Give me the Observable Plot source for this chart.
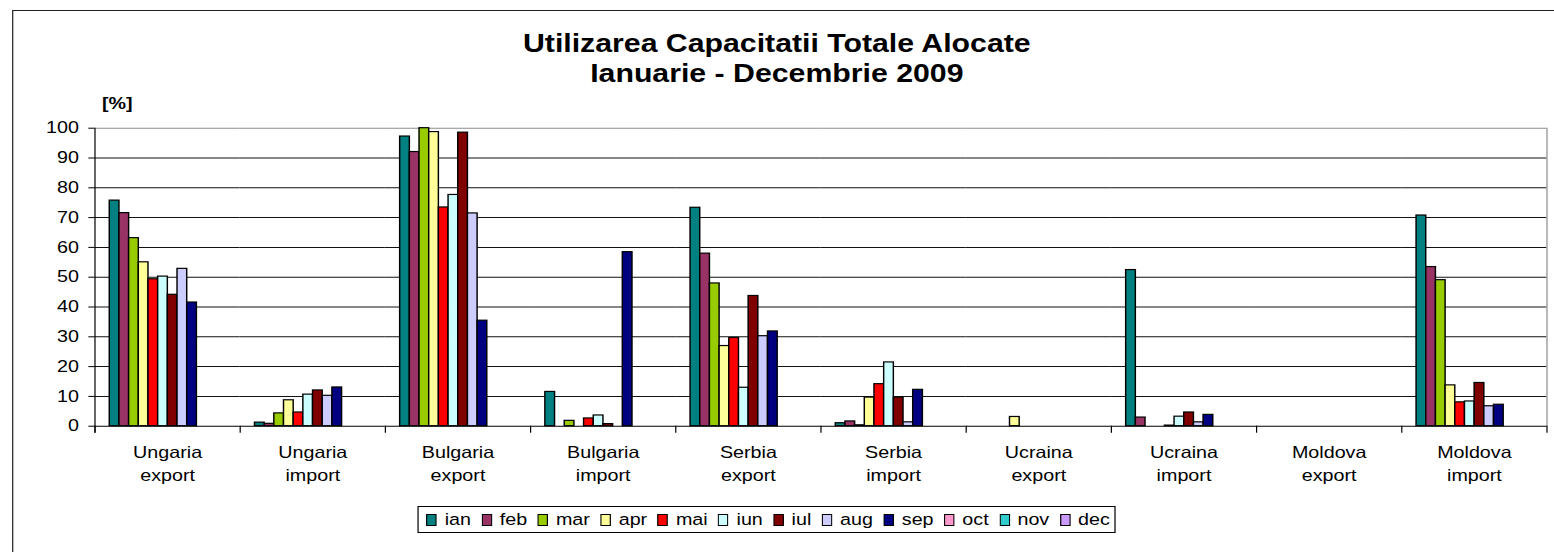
<!DOCTYPE html>
<html>
<head>
<meta charset="utf-8">
<script src="https://cdn.jsdelivr.net/npm/d3@7"></script>
<script src="https://cdn.jsdelivr.net/npm/@observablehq/plot@0.6"></script>
<style>
  html, body { margin: 0; padding: 0; background: #fff; overflow: hidden; width: 1554px; height: 552px; }
  #stage { position: relative; width: 1284px; height: 552px; transform: scaleX(1.21); transform-origin: 0 0;
           font-family: "Liberation Sans", Arial, sans-serif; color: #000; }
  #box { position: absolute; left: 9.9px; top: 10px; width: 1400px; height: 700px;
         border-top: 1.5px solid #222; border-left: 1.6px solid #222; }
  #title { position: absolute; left: 0; top: 28px; width: 1284px; text-align: center;
           font-weight: bold; font-size: 25px; line-height: 30px; }
  #unit { position: absolute; left: 84.3px; top: 93px; font-weight: bold; font-size: 16.3px; line-height: 20px; }
  #chart { position: absolute; left: 0; top: 100px; }
  #legend { position: absolute; left: 344.9px; top: 506px; width: 577.4px; height: 27.3px; box-sizing: border-box;
            border: 1px solid #000; display: flex; align-items: center; justify-content: space-between;
            padding: 0 4px 0 6.3px; font-size: 16.3px; background: #fff; }
  .item { display: flex; align-items: center; white-space: nowrap; flex-shrink: 0; }
  .sw { display: block; flex: 0 0 auto; margin-right: 6.3px; }
</style>
</head>
<body>
<div id="stage">
  <div id="box"></div>
  <div id="title">Utilizarea Capacitatii Totale Alocate<br>Ianuarie - Decembrie 2009</div>
  <div id="unit">[%]</div>
  <div id="chart"></div>
  <div id="legend"></div>
</div>
<script>
// ---- data ----
const categories = ["Ungaria export", "Ungaria import", "Bulgaria export", "Bulgaria import", "Serbia export",
                    "Serbia import", "Ucraina export", "Ucraina import", "Moldova export", "Moldova import"];
const months = ["ian", "feb", "mar", "apr", "mai", "iun", "iul", "aug", "sep", "oct", "nov", "dec"];
const monthColors = ["#008080", "#993366", "#99CC00", "#FFFF99", "#FF0000", "#CCFFFF",
                     "#800000", "#CCCCFF", "#000080", "#FF99CC", "#33CCCC", "#CC99FF"];
// values per month, in category order
const ian = [75.7, 1.2, 97.2, 11.5, 73.3, 1.0, 0, 52.4, 0, 70.7];
const feb = [71.5, 0.8, 92.0, 0, 57.9, 1.6, 0, 2.9, 0, 53.4];
const mar = [63.1, 4.3, 100, 1.8, 47.9, 0.3, 0, 0, 0, 49.0];
const apr = [55.0, 8.7, 98.7, 0, 26.9, 9.6, 3.1, 0, 0, 13.7];
const mai = [49.3, 4.6, 73.4, 2.6, 29.6, 14.1, 0, 0.2, 0, 8.0];
const iun = [50.2, 10.6, 77.6, 3.6, 12.9, 21.4, 0, 3.2, 0, 8.3];
const iul = [44.1, 12.0, 98.5, 0.7, 43.7, 9.6, 0, 4.6, 0, 14.5];
const aug = [52.8, 10.2, 71.4, 0, 30.2, 1.3, 0, 1.3, 0, 6.7];
const sep = [41.5, 13.0, 35.4, 58.4, 31.8, 12.2, 0, 3.8, 0, 7.2];
const oct = [null, null, null, null, null, null, null, null, null, null];
const nov = [null, null, null, null, null, null, null, null, null, null];
const dec = [null, null, null, null, null, null, null, null, null, null];
const yTicks = [0, 10, 20, 30, 40, 50, 60, 70, 80, 90, 100];

const series = [ian, feb, mar, apr, mai, iun, iul, aug, sep, oct, nov, dec];
const data = months.flatMap((m, j) => series[j].map((v, i) => ({cat: categories[i], month: m, value: v})))
                   .filter(d => d.value != null && d.value > 0);

// ---- chart ----
const W = 1284, H = 400, mTop = 27.7, mBottom = 74.3;
const plotH = H - mTop - mBottom;
const chart = Plot.plot({
  width: W, height: H,
  marginLeft: 77.7, marginRight: 6.3, marginTop: mTop, marginBottom: mBottom,
  style: {fontFamily: '"Liberation Sans", Arial, sans-serif', fontSize: "16.3px", color: "#000",
          background: "transparent", overflow: "visible"},
  fx: {domain: categories, padding: 0, axis: null, label: null},
  x: {domain: months, paddingInner: 0, paddingOuter: 0.72, axis: null},
  y: {domain: [0, 100], axis: null},
  color: {domain: months, range: monthColors},
  marks: [
    Plot.ruleY(yTicks.filter(t => t > 0 && t < 100), {stroke: "#111", strokeWidth: 1}),
    Plot.ruleY([100], {stroke: "#8c8c8c"}),
    Plot.barY(data, {fx: "cat", x: "month", y: "value", fill: "month", stroke: "#000", strokeWidth: 1.2, inset: 0}),
    Plot.ruleY([0], {stroke: "#000"}),
    Plot.frame({anchor: "left", facetAnchor: "left", stroke: "#000", insetBottom: -6}),
    Plot.frame({anchor: "left", stroke: "#000", insetTop: plotH, insetBottom: -6}),
    Plot.frame({anchor: "right", facetAnchor: "right", stroke: "#8c8c8c"}),
    Plot.frame({anchor: "right", facetAnchor: "right", stroke: "#000", insetTop: plotH, insetBottom: -6}),
    Plot.axisY({ticks: yTicks, tickSize: 5, tickPadding: 8.2, fontSize: 16.3, label: null,
                anchor: "left", facetAnchor: "left", fill: "#000", stroke: "#000"}),
    Plot.text(categories, {fx: d => d, text: d => d.replace(" ", "\n"), frameAnchor: "bottom", lineAnchor: "top",
                           dy: 16, lineHeight: 1.39, fontSize: 16.3, fill: "#000"})
  ]
});
document.getElementById("chart").appendChild(chart);

// ---- legend ----
const legend = document.getElementById("legend");
const svgNS = "http://www.w3.org/2000/svg";
months.forEach((m, i) => {
  const item = document.createElement("span");
  item.className = "item";
  const sw = document.createElementNS(svgNS, "svg");
  sw.setAttribute("class", "sw");
  sw.setAttribute("width", "9");
  sw.setAttribute("height", "12");
  const r = document.createElementNS(svgNS, "rect");
  r.setAttribute("x", "0.6"); r.setAttribute("y", "0.5");
  r.setAttribute("width", "7.8"); r.setAttribute("height", "11");
  r.setAttribute("fill", monthColors[i]);
  r.setAttribute("stroke", "#000");
  r.setAttribute("stroke-width", "1");
  sw.appendChild(r);
  const lab = document.createElement("span");
  lab.textContent = m;
  item.appendChild(sw);
  item.appendChild(lab);
  legend.appendChild(item);
});
</script>
</body>
</html>
